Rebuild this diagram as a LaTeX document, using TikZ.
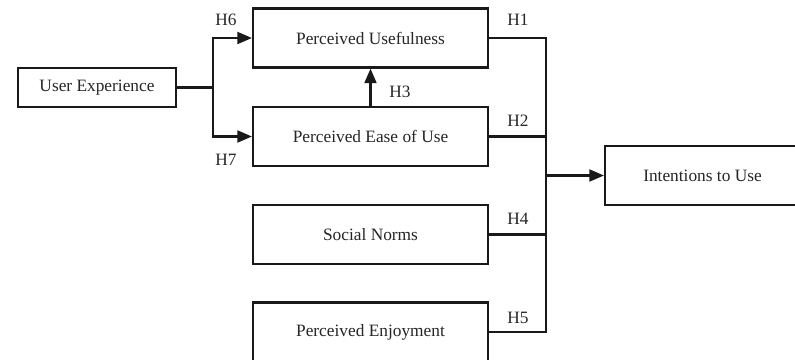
\documentclass[tikz,border=0pt]{standalone}
\usepackage{fontspec}
\setmainfont{Liberation Serif}
\usetikzlibrary{arrows.meta}
\begin{document}
\begin{tikzpicture}[x=0.75pt,y=-0.75pt,
  box/.style={draw=black!90, line width=1.6pt, fill=white, text=black!85,
    font=\fontsize{13}{15}\selectfont, inner sep=0pt},
  wide/.style={box, minimum width=176.25pt, minimum height=44.25pt},
  link/.style={draw=black!90, line width=1.6pt},
  tip/.style={-{Triangle[length=11pt,width=9pt]}},
  hyp/.style={text=black!85, font=\fontsize{13}{15}\selectfont}]
\useasboundingbox (0,0) rectangle (795,360);

% constructs
\node[box, minimum width=118.5pt, minimum height=29.25pt] (ux) at (97,87.5) {User Experience};
\node[wide] (pu)   at (370.5,38)    {Perceived Usefulness};
\node[wide] (peou) at (370.5,136.5) {Perceived Ease of Use};
\node[wide] (sn)   at (370.5,234.5) {Social Norms};
\node[wide] (pe)   at (370.5,332)   {Perceived Enjoyment};
\node[box, minimum width=146.25pt, minimum height=44.25pt] (itu) at (702.5,175.5) {Intentions to Use};

% split point after user experience and the collecting trunk
\coordinate (split) at (213,87.5);
\coordinate (trunk) at (546,0);

% user experience -> usefulness / ease of use
\draw[link] (ux.east) -- (split);
\draw[link, tip] (split) |- (pu.west);
\draw[link, tip] (split) |- (peou.west);

% ease of use -> usefulness
\draw[link, tip] (peou.north) -- (pu.south);

% predictors -> trunk
\draw[link] (pu.east) -- (pu.east -| trunk) -- (pe.east -| trunk) -- (pe.east);
\draw[link] (peou.east) -- (peou.east -| trunk);
\draw[link] (sn.east) -- (sn.east -| trunk);
\draw[link, tip] (itu.west -| trunk) -- (itu.west);

% hypothesis labels
\node[hyp] (h6) at (226,20)  {H6};
\node[hyp] (h7) at (226,160) {H7};
\node[hyp] (h3) at (400,92)  {H3};
\node[hyp] (h1) at (518,20)  {H1};
\node[hyp] (h2) at (518,121) {H2};
\node[hyp] (h4) at (518,219) {H4};
\node[hyp] (h5) at (518,318) {H5};
\end{tikzpicture}
\end{document}
